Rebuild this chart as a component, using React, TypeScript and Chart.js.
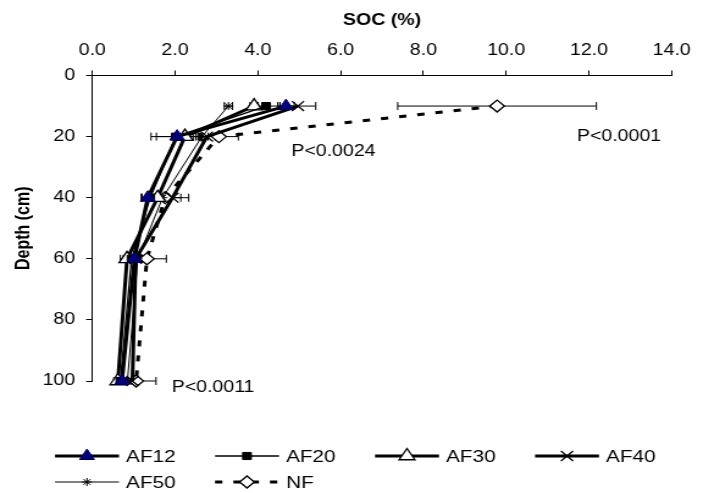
import React, { useEffect, useRef } from 'react';
import { Chart, registerables } from 'chart.js';
import { drawPoint } from 'chart.js/helpers';

Chart.register(...registerables);

// ---------- data ----------
const depths = [10, 20, 40, 60, 100];
const seriesNames = ['AF12', 'AF20', 'AF30', 'AF40', 'AF50', 'NF'];

const af12 = [4.68, 2.05, 1.34, 1.02, 0.72];
const af20 = [4.2, 2.02, 1.4, 0.95, 0.68];
const af30 = [3.91, 2.24, 1.58, 0.84, 0.62];
const af40 = [4.97, 2.77, 1.94, 1.05, 0.97];
const af50 = [3.29, 2.65, 1.7, 1.1, 0.85];
const nf = [9.78, 3.06, 1.76, 1.32, 1.06];

const err12 = [0.2, 0.5, 0.15, 0.15, 0.1];
const err20 = [0.33, 0.6, 0.2, 0.2, 0.1];
const err30 = [0.1, 0.2, 0.2, 0.16, 0.1];
const err40 = [0.43, 0.2, 0.2, 0.15, 0.1];
const err50 = [0.1, 0.15, 0.15, 0.1, 0.1];
const errNF = [2.4, 0.47, 0.57, 0.47, 0.48];

const pLabels = ['P<0.0001', 'P<0.0024', 'P<0.0011'];
const pX = [11.71, 4.81, 1.92];
const pDepth = [20.1, 24.9, 102];

const xMin = 0;
const xMax = 14;
const xStep = 2;
const yMin = 0;
const yMax = 100;
const yStep = 20;

// ---------- layout / style ----------
const W = 576; // drawing width (stretched horizontally to 703 on screen)
const H = 493;
const DISPLAY_W = 703;
const FONT = '"Liberation Sans", Arial, Helvetica, sans-serif';

const legendCols = [45.1, 176.2, 307.3, 438.4];
const legendRows = [456, 482];
const legendLine = 52.4;
const legendTextGap = 5.8;

const seriesValues = [af12, af20, af30, af40, af50, nf];
const seriesErrors = [err12, err20, err30, err40, err50, errNF];

const seriesStyles = [
  { borderWidth: 3, borderDash: [], pointStyle: 'triangle', pointRadius: 7, pointBackgroundColor: '#000080', pointBorderColor: '#00005a', pointBorderWidth: 1 },
  { borderWidth: 1.3, borderDash: [], pointStyle: 'rect', pointRadius: 5, pointBackgroundColor: '#000000', pointBorderColor: '#000000', pointBorderWidth: 1 },
  { borderWidth: 3, borderDash: [], pointStyle: 'triangle', pointRadius: 7.5, pointBackgroundColor: '#ffffff', pointBorderColor: '#000000', pointBorderWidth: 1.3 },
  { borderWidth: 3, borderDash: [], pointStyle: 'crossRot', pointRadius: 7, pointBackgroundColor: '#000000', pointBorderColor: '#000000', pointBorderWidth: 1.3 },
  { borderWidth: 1, borderDash: [], pointStyle: 'star', pointRadius: 4, pointBackgroundColor: '#000000', pointBorderColor: '#000000', pointBorderWidth: 1 },
  { borderWidth: 3, borderDash: [6, 9], pointStyle: 'rectRot', pointRadius: 6, pointBackgroundColor: '#ffffff', pointBorderColor: '#000000', pointBorderWidth: 1.3 },
];

const errorBarPlugin = {
  id: 'errorBars',
  beforeDatasetsDraw(chart: any) {
    const ctx = chart.ctx;
    const xs = chart.scales.x;
    const ys = chart.scales.y;
    ctx.save();
    ctx.strokeStyle = '#000000';
    ctx.lineWidth = 1;
    ctx.setLineDash([]);
    seriesValues.forEach((vals, i) => {
      vals.forEach((v, j) => {
        const e = seriesErrors[i][j];
        const y = ys.getPixelForValue(depths[j]);
        const x1 = xs.getPixelForValue(v - e);
        const x2 = xs.getPixelForValue(v + e);
        ctx.beginPath();
        ctx.moveTo(x1, y);
        ctx.lineTo(x2, y);
        ctx.moveTo(x1, y - 4);
        ctx.lineTo(x1, y + 4);
        ctx.moveTo(x2, y - 4);
        ctx.lineTo(x2, y + 4);
        ctx.stroke();
      });
    });
    ctx.restore();
  },
};

const annotationPlugin = {
  id: 'pAnnotations',
  afterDraw(chart: any) {
    const ctx = chart.ctx;
    const xs = chart.scales.x;
    const ys = chart.scales.y;
    ctx.save();
    ctx.fillStyle = '#000000';
    ctx.font = `16px ${FONT}`;
    ctx.textAlign = 'left';
    ctx.textBaseline = 'middle';
    pLabels.forEach((t, i) => {
      ctx.fillText(t, xs.getPixelForValue(pX[i]), ys.getPixelForValue(pDepth[i]));
    });
    ctx.restore();
  },
};

const legendPlugin = {
  id: 'customLegend',
  afterDraw(chart: any) {
    const ctx = chart.ctx;
    chart.data.datasets.forEach((ds: any, i: number) => {
      const col = i % 4;
      const row = Math.floor(i / 4);
      const x0 = legendCols[col];
      const y = legendRows[row];
      ctx.save();
      ctx.strokeStyle = ds.borderColor;
      ctx.lineWidth = ds.borderWidth;
      ctx.setLineDash(ds.borderDash || []);
      ctx.beginPath();
      ctx.moveTo(x0, y);
      ctx.lineTo(x0 + legendLine, y);
      ctx.stroke();
      ctx.setLineDash([]);
      ctx.fillStyle = ds.pointBackgroundColor;
      ctx.strokeStyle = ds.pointBorderColor;
      ctx.lineWidth = ds.pointBorderWidth;
      drawPoint(ctx, { pointStyle: ds.pointStyle, rotation: 0, borderWidth: ds.pointBorderWidth, radius: ds.pointRadius } as any, x0 + legendLine / 2, y);
      ctx.fillStyle = '#000000';
      ctx.font = `17px ${FONT}`;
      ctx.textAlign = 'left';
      ctx.textBaseline = 'middle';
      ctx.fillText(ds.label, x0 + legendLine + legendTextGap, y + 1);
      ctx.restore();
    });
  },
};

export default function App() {
  const canvasRef = useRef<HTMLCanvasElement | null>(null);

  useEffect(() => {
    const canvas = canvasRef.current;
    if (!canvas) return;

    const datasets = seriesNames.map((name, i) => ({
      label: name,
      data: depths.map((d, j) => ({ x: seriesValues[i][j], y: d })),
      borderColor: '#000000',
      backgroundColor: '#000000',
      fill: false,
      tension: 0,
      clip: false as any,
      ...seriesStyles[i],
      pointHoverRadius: seriesStyles[i].pointRadius,
    }));

    const tickFont = { family: FONT, size: 16 };
    const titleFont = { family: FONT, size: 16, weight: 'bold' as const };

    const chart = new Chart(canvas, {
      type: 'line',
      data: { datasets: datasets as any },
      options: {
        animation: false,
        responsive: false,
        devicePixelRatio: 1,
        events: [],
        layout: { padding: { left: 0, top: 0, right: W - 554.7, bottom: H - 381 } },
        plugins: {
          legend: { display: false },
          tooltip: { enabled: false },
        },
        scales: {
          x: {
            type: 'linear',
            position: 'top',
            min: xMin,
            max: xMax,
            ticks: {
              stepSize: xStep,
              autoSkip: false,
              maxRotation: 0,
              color: '#000000',
              font: tickFont,
              padding: 10,
              callback: (v: any) => Number(v).toFixed(1),
            },
            grid: { drawOnChartArea: false, drawTicks: true, tickLength: 5, color: '#000000', lineWidth: 1 },
            border: { display: true, color: '#000000', width: 1 },
            title: { display: true, text: 'SOC (%)', color: '#000000', font: titleFont, padding: { top: 11, bottom: 0 } },
            afterFit: (s: any) => { s.height = 75.5; },
          },
          y: {
            type: 'linear',
            reverse: true,
            min: yMin,
            max: yMax,
            ticks: {
              stepSize: yStep,
              autoSkip: false,
              color: '#000000',
              font: tickFont,
              padding: 9,
            },
            grid: { drawOnChartArea: false, drawTicks: true, tickLength: 5, color: '#000000', lineWidth: 1 },
            border: { display: true, color: '#000000', width: 1 },
            title: { display: true, text: 'Depth (cm)', color: '#000000', font: titleFont, padding: { top: 9.5, bottom: 0 } },
            afterFit: (s: any) => { s.width = 75.6; },
          },
        },
      } as any,
      plugins: [errorBarPlugin, annotationPlugin, legendPlugin],
    });

    return () => chart.destroy();
  }, []);

  return (
    <canvas
      ref={canvasRef}
      width={W}
      height={H}
      style={{ position: 'absolute', left: 0, top: 0, width: `${DISPLAY_W}px`, height: `${H}px`, background: '#ffffff' }}
    />
  );
}
